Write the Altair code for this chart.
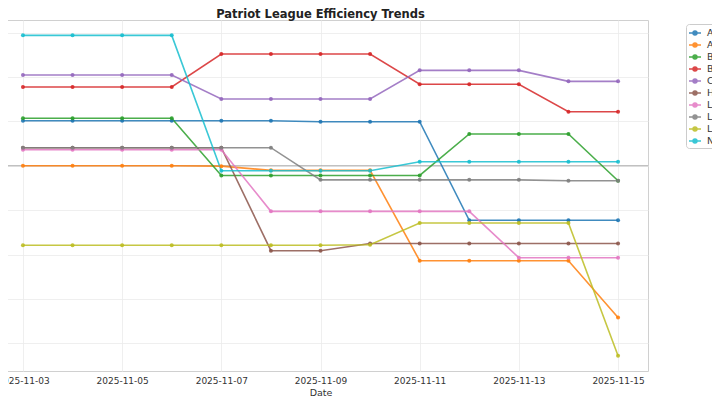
import altair as alt
import pandas as pd

dates = ["2025-11-03", "2025-11-04", "2025-11-05", "2025-11-06", "2025-11-07",
         "2025-11-08", "2025-11-09", "2025-11-10", "2025-11-11", "2025-11-12",
         "2025-11-13", "2025-11-14", "2025-11-15"]

teams = ["American", "Army", "Boston University", "Bucknell", "Colgate",
         "Holy Cross", "Lafayette", "Lehigh", "Loyola (MD)", "Navy"]

american = [5.07, 5.07, 5.07, 5.07, 5.07, 5.07, 4.95, 4.95, 4.95, -6.15, -6.15, -6.15, -6.15]
army = [0.0, 0.0, 0.0, 0.0, -0.05, -0.52, -0.52, -0.52, -10.7, -10.7, -10.7, -10.7, -17.1]
boston = [5.34, 5.34, 5.34, 5.34, -1.10, -1.10, -1.10, -1.10, -1.10, 3.57, 3.57, 3.57, -1.69]
bucknell = [8.86, 8.86, 8.86, 8.86, 12.58, 12.58, 12.58, 12.58, 9.17, 9.17, 9.17, 6.08, 6.08]
colgate = [10.21, 10.21, 10.21, 10.21, 7.51, 7.51, 7.51, 7.51, 10.74, 10.74, 10.74, 9.50, 9.50]
holy_cross = [2.03, 2.03, 2.03, 2.03, 2.03, -9.57, -9.57, -8.76, -8.76, -8.76, -8.76, -8.76, -8.76]
lafayette = [1.80, 1.80, 1.80, 1.80, 1.80, -5.14, -5.14, -5.14, -5.14, -5.14, -10.36, -10.36, -10.36]
lehigh = [2.03, 2.03, 2.03, 2.03, 2.03, 2.03, -1.59, -1.59, -1.59, -1.59, -1.59, -1.69, -1.69]
loyola = [-8.96, -8.96, -8.96, -8.96, -8.96, -8.96, -8.96, -8.90, -6.45, -6.45, -6.45, -6.45, -21.4]
navy = [14.68, 14.68, 14.68, 14.68, -0.56, -0.56, -0.56, -0.56, 0.45, 0.45, 0.45, 0.45, 0.45]

series = [american, army, boston, bucknell, colgate, holy_cross, lafayette, lehigh, loyola, navy]
colors = ["#1f77b4", "#ff7f0e", "#2ca02c", "#d62728", "#9467bd",
          "#8c564b", "#e377c2", "#7f7f7f", "#bcbd22", "#17becf"]

rows = []
for team, vals in zip(teams, series):
    for d, v in zip(dates, vals):
        rows.append({"Date": d, "Team": team, "Value": v})
df = pd.DataFrame(rows)

tick_days = [3, 5, 7, 9, 11, 13, 15]
x_scale = alt.Scale(
    type="utc",
    domain=[alt.DateTime(year=2025, month=11, date=2, hours=9, minutes=30, utc=True),
            alt.DateTime(year=2025, month=11, date=15, hours=14, minutes=30, utc=True)],
)
y_scale = alt.Scale(domain=[-23.12, 16.41], nice=False, zero=False)

legend_path = "M-1,0H1M0.33,0A0.33,0.33,0,1,1,-0.33,0A0.33,0.33,0,1,1,0.33,0Z"

zero = alt.Chart(pd.DataFrame({"v": [0]})).mark_rule(
    color="#999999", strokeWidth=1.1, opacity=0.8
).encode(y=alt.Y("v:Q", scale=y_scale))

lines = alt.Chart(df).mark_line(
    strokeWidth=1.6, opacity=0.85,
    point=alt.OverlayMarkDef(filled=True, size=16, opacity=0.9),
).encode(
    x=alt.X("Date:T", scale=x_scale, title="Date",
            axis=alt.Axis(values=[alt.DateTime(year=2025, month=11, date=d, utc=True) for d in tick_days],
                          labelExpr="utcFormat(datum.value, '%Y-%m-%d')",
                          grid=True, ticks=False, domain=False,
                          labelFontSize=9, labelColor="#333333", labelPadding=5,
                          titleFontSize=9.5, titleColor="#333333", titlePadding=2,
                          titleFontWeight="normal")),
    y=alt.Y("Value:Q", scale=y_scale, title=None,
            axis=alt.Axis(values=[-20, -15, -10, -5, 0, 5, 10, 15], labels=False,
                          ticks=False, domain=False, grid=True)),
    color=alt.Color("Team:N", scale=alt.Scale(domain=teams, range=colors),
                    legend=alt.Legend(title=None, orient="none", legendX=693, legendY=4,
                                      symbolType=legend_path, symbolSize=144,
                                      symbolStrokeWidth=1.5, labelFontSize=9.5,
                                      labelColor="#333333", labelOffset=5,
                                      rowPadding=0, padding=2, fillColor="white",
                                      strokeColor="#cccccc", cornerRadius=3)),
)

chart = alt.layer(zero, lines).properties(
    width=655, height=351,
    title=alt.TitleParams("Patriot League Efficiency Trends", fontSize=11.5,
                          fontWeight="bold", color="#222222", offset=0, anchor="middle"),
    autosize=alt.AutoSizeParams(type="none"),
    padding={"left": -15, "top": 12, "right": 64, "bottom": 26},
).configure(font="DejaVu Sans").configure_view(
    stroke="#d0d0d0", strokeWidth=1
).configure_axis(gridColor="#ebebeb", gridWidth=0.8)

chart.save("out.html", embed_options={"renderer": "svg", "actions": False})
